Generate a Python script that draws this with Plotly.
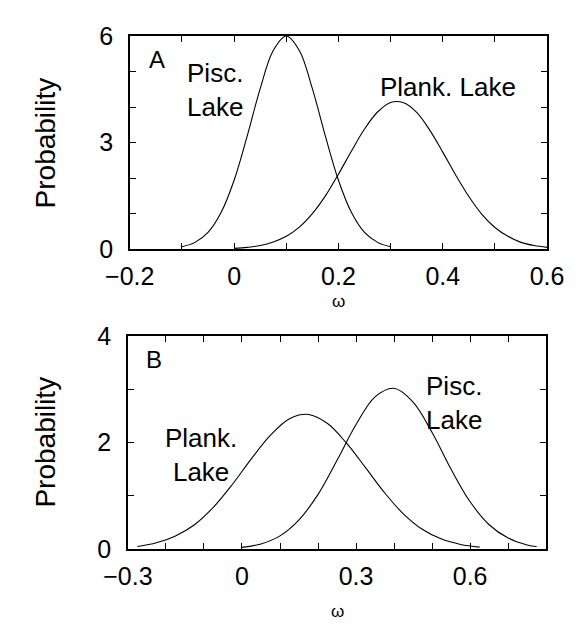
import plotly.graph_objects as go

# ---------------- data ----------------
# Panel A
a_pisc_x = [-0.1, -0.075, -0.05, -0.025, 0.0, 0.025, 0.05, 0.075, 0.1,
            0.125, 0.15, 0.175, 0.2, 0.225, 0.25, 0.275, 0.3]
a_pisc_y = [0.065, 0.19, 0.47, 1.03, 1.94, 3.18, 4.52, 5.59, 6.0,
            5.59, 4.52, 3.18, 1.94, 1.03, 0.47, 0.19, 0.065]
a_plank_x = [0.0, 0.025, 0.05, 0.075, 0.1, 0.125, 0.15, 0.175, 0.2, 0.225,
             0.25, 0.275, 0.3, 0.325, 0.35, 0.375, 0.4, 0.425, 0.45, 0.475,
             0.5, 0.525, 0.55, 0.575, 0.6]
a_plank_y = [0.02, 0.05, 0.10, 0.20, 0.36, 0.62, 1.00, 1.50, 2.11, 2.76,
             3.38, 3.86, 4.13, 4.12, 3.85, 3.35, 2.73, 2.08, 1.48, 0.98,
             0.61, 0.36, 0.19, 0.10, 0.05]

# Panel B
b_plank_x = [-0.275, -0.225, -0.175, -0.125, -0.075, -0.025, 0.025, 0.075,
             0.125, 0.175, 0.225, 0.275, 0.325, 0.375, 0.425, 0.475, 0.525,
             0.575, 0.625]
b_plank_y = [0.05, 0.12, 0.25, 0.46, 0.79, 1.22, 1.70, 2.14,
             2.45, 2.53, 2.36, 1.99, 1.53, 1.06, 0.66, 0.37, 0.19,
             0.09, 0.04]
b_pisc_x = [0.0, 0.05, 0.1, 0.15, 0.2, 0.25, 0.3, 0.35, 0.4, 0.45, 0.5,
            0.55, 0.6, 0.65, 0.7, 0.75, 0.775]
b_pisc_y = [0.035, 0.10, 0.25, 0.55, 1.03, 1.67, 2.34, 2.86, 3.02, 2.76, 2.19,
            1.50, 0.89, 0.46, 0.21, 0.08, 0.05]

# tick labels
a_xticks = [-0.2, 0, 0.2, 0.4, 0.6]
a_xtext = ["−0.2", "0", "0.2", "0.4", "0.6"]
a_yticks = [0, 3, 6]
b_xticks = [-0.3, 0, 0.3, 0.6]
b_xtext = ["−0.3", "0", "0.3", "0.6"]
b_yticks = [0, 2, 4]

# ---------------- layout helpers ----------------
W, H = 578, 633


def px(x):
    return x / W


def py(y):
    return 1 - y / H


FONT = "Liberation Sans, Arial, Helvetica, sans-serif"
line = dict(color="black", width=1.1)

fig = go.Figure()
fig.add_trace(go.Scatter(x=a_pisc_x, y=a_pisc_y, mode="lines", line=line,
                         line_shape="spline", xaxis="x", yaxis="y"))
fig.add_trace(go.Scatter(x=a_plank_x, y=a_plank_y, mode="lines", line=line,
                         line_shape="spline", xaxis="x", yaxis="y"))
fig.add_trace(go.Scatter(x=b_plank_x, y=b_plank_y, mode="lines", line=line,
                         line_shape="spline", xaxis="x2", yaxis="y2"))
fig.add_trace(go.Scatter(x=b_pisc_x, y=b_pisc_y, mode="lines", line=line,
                         line_shape="spline", xaxis="x2", yaxis="y2"))

common = dict(showgrid=False, zeroline=False, showline=True, linecolor="black",
              linewidth=1.5, mirror="ticks", ticks="inside", ticklen=6,
              tickwidth=1, tickcolor="black", fixedrange=True,
              ticklabeloverflow="allow")

EPS = 1e-6
fig.update_layout(
    width=W, height=H,
    margin=dict(l=0, r=0, t=0, b=0),
    paper_bgcolor="white", plot_bgcolor="white",
    showlegend=False,
    font=dict(family=FONT, size=25, color="black"),
    xaxis=dict(domain=[px(113), px(563)], range=[-0.2 - EPS, 0.6 + EPS], anchor="y",
               tickmode="array", tickvals=a_xticks, ticktext=a_xtext,
               ticklabelstandoff=4,
               minor=dict(tickmode="linear", tick0=0, dtick=0.1, ticks="inside",
                          ticklen=6, tickcolor="black"),
               **common),
    yaxis=dict(domain=[py(246), py(23)], range=[0 - EPS, 6 + EPS], anchor="x",
               tickmode="array", tickvals=a_yticks, ticklabelstandoff=10,
               minor=dict(tickmode="linear", tick0=0, dtick=1, ticks="inside",
                          ticklen=6, tickcolor="black"),
               **common),
    xaxis2=dict(domain=[px(111), px(562)], range=[-0.3 - EPS, 0.8 + EPS], anchor="y2",
                tickmode="array", tickvals=b_xticks, ticktext=b_xtext,
                ticklabelstandoff=4,
                minor=dict(tickmode="linear", tick0=0, dtick=0.1, ticks="inside",
                           ticklen=6, tickcolor="black"),
                **common),
    yaxis2=dict(domain=[py(560), py(337)], range=[0 - EPS, 4 + EPS], anchor="x2",
                tickmode="array", tickvals=b_yticks, ticklabelstandoff=10,
                minor=dict(tickmode="linear", tick0=0, dtick=1, ticks="inside",
                           ticklen=6, tickcolor="black"),
                **common),
)

ann = []


def text(x, y, s, size=26, angle=0):
    ann.append(dict(x=px(x), y=py(y), xref="paper", yref="paper", text=s,
                    showarrow=False, xanchor="center", yanchor="middle",
                    textangle=angle, font=dict(family=FONT, size=size, color="black")))


text(142, 48, "A", size=24)
text(205, 80, "Pisc.<br>Lake")
text(456, 76, "Plank. Lake")
text(22, 135, "Probability", size=28, angle=-90)
text(338, 301, "ω", size=17)

text(139, 361, "B", size=24)
text(190, 461, "Plank.<br>Lake")
text(463, 407, "Pisc.<br>Lake")
text(22, 448, "Probability", size=28, angle=-90)
text(337, 625, "ω", size=17)

fig.update_layout(annotations=ann)
fig.write_html("out.html")
